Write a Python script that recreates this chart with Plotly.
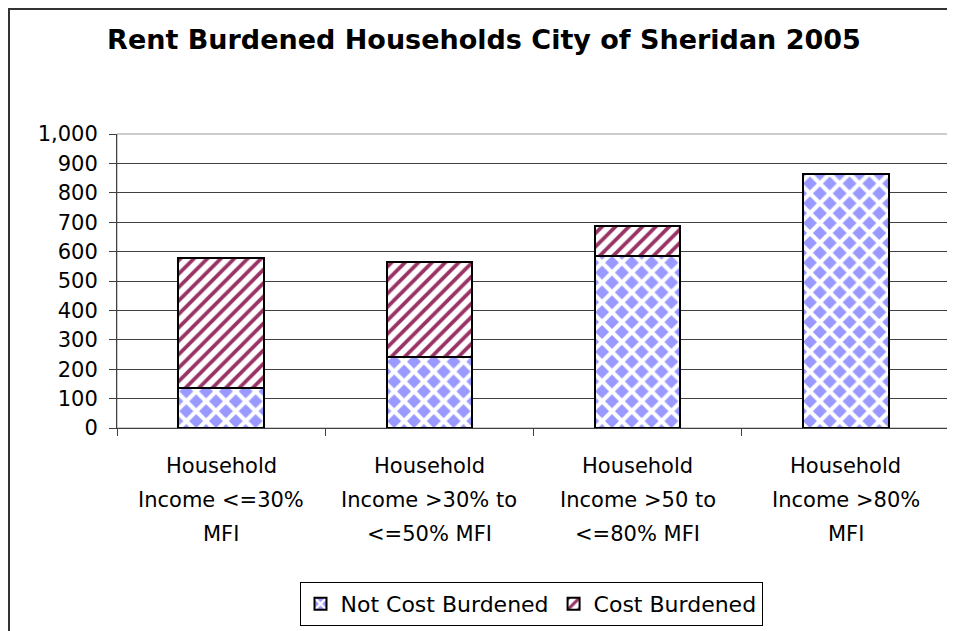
import plotly.graph_objects as go

# Data
categories = [
    "Household Income <=30% MFI",
    "Household Income >30% to <=50% MFI",
    "Household Income >50 to <=80% MFI",
    "Household Income >80% MFI",
]
tick_label_lines = [
    ["Household", "Income &lt;=30%", "MFI"],
    ["Household", "Income &gt;30% to", "&lt;=50% MFI"],
    ["Household", "Income &gt;50 to", "&lt;=80% MFI"],
    ["Household", "Income &gt;80%", "MFI"],
]
not_cost_burdened = [136, 242, 586, 864]
cost_burdened = [442, 323, 101, 0]
series_names = ["Not Cost Burdened", "Cost Burdened"]
y_tick_values = [0, 100, 200, 300, 400, 500, 600, 700, 800, 900, 1000]
title_text = "Rent Burdened Households City of Sheridan 2005"

FONT = "DejaVu Sans"
W, H = 955, 631
ML, MT, MR, MB = 109, 126, 13, 211
PW, PH = W - ML - MR, H - MT - MB


def py(fig_y):
    """figure pixel y -> paper y"""
    return (H - MB - fig_y) / PH


def px(fig_x):
    return (fig_x - ML) / PW


fig = go.Figure()
fig.add_trace(go.Bar(
    name=series_names[0], x=categories, y=not_cost_burdened, width=0.41,
    marker=dict(
        color="#9999FF",
        line=dict(color="black", width=2),
        pattern=dict(shape="x", fgcolor="white", bgcolor="#9999FF",
                     size=14, solidity=0.5, fillmode="replace"),
    ),
))
fig.add_trace(go.Bar(
    name=series_names[1], x=categories, y=cost_burdened, width=0.41,
    marker=dict(
        color="#993366",
        line=dict(color="black", width=2),
        pattern=dict(shape="/", fgcolor="#993366", bgcolor="white",
                     size=9.5, solidity=0.4, fillmode="replace"),
    ),
))

annotations = []
line_centers = [458, 492, 526]
for cat, lines in zip(categories, tick_label_lines):
    for line, yc in zip(lines, line_centers):
        annotations.append(dict(
            x=cat, xref="x", y=py(yc), yref="paper", text=line,
            showarrow=False, xanchor="center", yanchor="middle",
            font=dict(family=FONT, size=21, color="black"),
        ))

fig.update_layout(
    barmode="stack",
    width=W, height=H,
    margin=dict(l=ML, r=MR, t=MT, b=MB),
    paper_bgcolor="white", plot_bgcolor="white",
    font=dict(family=FONT, size=21, color="black"),
    title=dict(text="<b>" + title_text + "</b>", x=476 / W, xanchor="center",
               y=1 - 32 / H, yanchor="middle", yref="container",
               font=dict(family=FONT, size=27, color="black")),
    showlegend=True,
    legend=dict(orientation="h", x=px(523), xanchor="center", y=py(574), yanchor="top",
                bordercolor="black", borderwidth=1, bgcolor="white",
                font=dict(family=FONT, size=22, color="black"),
                traceorder="normal"),
    annotations=annotations,
    shapes=[
        dict(type="rect", xref="paper", yref="paper", x0=0, x1=1, y0=0, y1=1,
             line=dict(color="#999999", width=1), layer="below"),
        dict(type="rect", xref="paper", yref="paper",
             x0=px(1), x1=px(W + 20), y0=py(1), y1=py(H + 20),
             line=dict(color="#333333", width=2), layer="below"),
    ],
)
fig.update_xaxes(
    type="category", showline=True, linecolor="#404040", linewidth=1,
    ticks="outside", tickson="boundaries", ticklen=7, tickcolor="#404040",
    showgrid=False, showticklabels=False,
)
fig.update_yaxes(
    range=[0, 1000], tickvals=y_tick_values, tickformat=",",
    showline=True, linecolor="#404040", linewidth=1,
    ticks="outside", ticklen=7, tickcolor="#404040",
    showgrid=True, gridcolor="#404040", gridwidth=1, zeroline=False,
    tickfont=dict(family=FONT, size=21, color="black"),
    ticklabelstandoff=7,
)

fig.write_html("out.html")
